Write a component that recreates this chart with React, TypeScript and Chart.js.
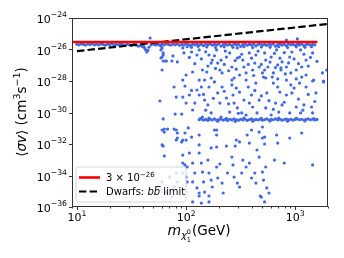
import React, { useEffect, useRef } from 'react';
import { Chart, registerables } from 'chart.js';
Chart.register(...registerables);

// Axis ranges
const X_MIN = 9;
const X_MAX = 2000;
const Y_MIN = 1e-36;
const Y_MAX = 1e-24;

// Tick labels
const xTickValues = [10, 100, 1000];
const xTickExponents = ['1', '2', '3'];
const yTickExponents = [-24, -26, -28, -30, -32, -34, -36];

// Reference lines
const relicM = [9, 1600];
const relicSV = [3e-26, 3e-26];
const dwarfM = [10, 2000];
const dwarfSV = [7.9e-27, 4.2e-25];

// Scan points as [log10(m / GeV), log10(<sigma v> / cm^3 s^-1)]
const relicBand: [number, number][] = [
  [1.00, -25.66], [1.02, -25.70], [1.04, -25.64], [1.06, -25.68], [1.08, -25.72], [1.10, -25.65], [1.12, -25.69], [1.14, -25.63],
  [1.16, -25.71], [1.18, -25.66], [1.20, -25.70], [1.22, -25.64], [1.24, -25.68], [1.26, -25.73], [1.28, -25.66], [1.30, -25.69],
  [1.32, -25.64], [1.34, -25.71], [1.36, -25.67], [1.38, -25.70], [1.40, -25.65], [1.42, -25.69], [1.44, -25.72], [1.46, -25.66],
  [1.48, -25.70], [1.50, -25.74], [1.52, -25.68], [1.54, -25.72], [1.56, -25.78], [1.58, -25.75], [1.60, -25.82], [1.61, -25.78],
  [1.62, -25.90], [1.63, -26.03], [1.64, -26.16], [1.65, -26.05], [1.66, -25.85], [1.67, -25.27], [1.68, -25.70], [1.70, -25.66],
  [1.72, -25.71], [1.74, -25.68], [1.76, -25.72], [1.77, -25.78], [1.78, -25.90], [1.79, -26.35], [1.77, -26.54], [1.78, -25.66],
  [1.80, -25.70], [1.82, -25.64], [1.84, -25.69], [1.86, -25.72], [1.88, -25.66], [1.90, -25.70], [1.92, -25.65], [1.94, -25.73],
  [1.96, -25.68], [1.98, -25.71], [2.00, -25.64], [2.02, -25.69], [2.04, -25.74], [2.06, -25.67], [2.08, -25.70], [2.10, -25.65],
  [2.12, -25.72], [2.14, -25.68], [2.16, -25.76], [2.18, -25.66], [2.20, -25.70], [2.22, -25.64], [2.24, -25.73], [2.26, -25.68],
  [2.28, -25.71], [2.30, -25.65], [2.32, -25.78], [2.34, -25.69], [2.36, -25.66], [2.38, -25.72], [2.40, -25.68], [2.42, -25.75],
  [2.44, -25.65], [2.46, -25.70], [2.48, -25.67], [2.50, -25.80], [2.52, -25.69], [2.54, -25.64], [2.56, -25.73], [2.58, -25.68],
  [2.60, -25.71], [2.62, -25.66], [2.64, -25.77], [2.66, -25.69], [2.68, -25.65], [2.70, -25.72], [2.72, -25.68], [2.74, -25.74],
  [2.76, -25.66], [2.78, -25.70], [2.80, -25.64], [2.82, -25.79], [2.84, -25.69], [2.86, -25.66], [2.88, -25.72], [2.90, -25.68],
  [2.92, -25.75], [2.94, -25.65], [2.96, -25.70], [2.98, -25.67], [3.00, -25.73], [3.02, -25.68], [3.04, -25.71], [3.06, -25.65],
  [3.08, -25.76], [3.10, -25.69], [3.12, -25.66], [3.14, -25.72], [3.16, -25.68], [3.18, -25.70],
  [2.01, -25.82], [2.05, -25.86], [2.11, -25.80], [2.19, -25.84], [2.27, -25.88], [2.35, -25.83], [2.43, -25.86], [2.53, -25.82],
  [2.61, -25.88], [2.69, -25.84], [2.77, -25.86], [2.85, -25.82], [2.93, -25.87], [3.01, -25.83], [3.09, -25.86], [3.15, -25.82],
  [2.45, -25.58], [2.87, -25.56], [3.03, -25.57],
];

const lowBand: [number, number][] = [
  [2.12, -30.46], [2.14, -30.42], [2.16, -30.48], [2.18, -30.44], [2.20, -30.50], [2.22, -30.43], [2.24, -30.47], [2.26, -30.41],
  [2.28, -30.49], [2.30, -30.45], [2.32, -30.42], [2.34, -30.48], [2.36, -30.44], [2.38, -30.51], [2.40, -30.43], [2.42, -30.47],
  [2.44, -30.40], [2.46, -30.46], [2.48, -30.49], [2.50, -30.43], [2.52, -30.47], [2.54, -30.42], [2.56, -30.50], [2.58, -30.45],
  [2.60, -30.41], [2.62, -30.48], [2.64, -30.44], [2.66, -30.47], [2.68, -30.42], [2.70, -30.49], [2.72, -30.45], [2.74, -30.41],
  [2.76, -30.48], [2.78, -30.44], [2.80, -30.46], [2.82, -30.40], [2.84, -30.47], [2.86, -30.43], [2.88, -30.49], [2.90, -30.45],
  [2.92, -30.42], [2.94, -30.47], [2.96, -30.43], [2.98, -30.48], [3.00, -30.44], [3.02, -30.41], [3.04, -30.46], [3.06, -30.43],
  [3.08, -30.48], [3.10, -30.44], [3.12, -30.41], [3.14, -30.46], [3.16, -30.43], [3.18, -30.47], [3.20, -30.44],
  [2.13, -30.38], [2.21, -30.36], [2.29, -30.55], [2.37, -30.37], [2.45, -30.56], [2.53, -30.36], [2.61, -30.55], [2.69, -30.37],
  [2.77, -30.54], [2.85, -30.36], [2.93, -30.55], [3.01, -30.37], [3.09, -30.54], [3.17, -30.38],
];

const upperCloud: [number, number][] = [
  [1.77, -26.03], [1.79, -26.22], [1.78, -26.48], [1.79, -26.73], [1.81, -26.73], [1.78, -27.30], [1.88, -26.41], [1.92, -26.79],
  [1.98, -26.22], [1.97, -25.90], [2.05, -26.16], [2.06, -27.43], [2.12, -26.03], [2.15, -27.30], [2.17, -27.94], [2.21, -26.35],
  [2.23, -26.86], [2.24, -26.67], [2.28, -26.03], [2.29, -26.86], [2.31, -27.30], [2.32, -26.67], [2.33, -27.49], [2.37, -26.48],
  [2.40, -26.22], [2.42, -27.11], [2.44, -27.81], [2.47, -25.90], [2.49, -26.48], [2.52, -26.67], [2.53, -27.11], [2.55, -27.49],
  [2.58, -26.22], [2.61, -27.30], [2.63, -26.86], [2.64, -26.35], [2.67, -27.11], [2.70, -27.49], [2.72, -26.22], [2.73, -26.67],
  [2.75, -27.11], [2.78, -26.48], [2.80, -27.49], [2.83, -26.03], [2.84, -26.98], [2.87, -27.30], [2.88, -26.79], [2.92, -27.11],
  [2.95, -26.48], [2.96, -27.49], [2.97, -26.16], [3.01, -27.30], [3.05, -26.03], [3.06, -27.11], [3.10, -26.67], [3.16, -26.22],
  [3.25, -27.49], [3.29, -27.30], [3.26, -28.00], [3.16, -28.00], [2.92, -25.40], [3.02, -25.33],
  [2.00, -27.62], [2.12, -27.94], [2.19, -27.43], [2.23, -27.81], [2.42, -27.94], [2.47, -26.54], [2.49, -27.62], [2.55, -27.94],
  [2.72, -27.30], [2.79, -27.75], [2.87, -27.17], [2.92, -27.94], [3.06, -27.75], [3.17, -27.94], [1.87, -26.73], [1.82, -26.73],
  [2.03, -26.50], [2.08, -26.90], [2.10, -26.35], [2.14, -26.60], [2.18, -26.15], [2.20, -27.05], [2.26, -26.40], [2.27, -27.20],
  [2.35, -26.95], [2.36, -26.10], [2.39, -27.35], [2.45, -26.70], [2.46, -27.25], [2.51, -26.30], [2.57, -26.95], [2.60, -26.55],
  [2.62, -27.65], [2.66, -26.10], [2.69, -26.95], [2.71, -27.75], [2.77, -26.80], [2.81, -26.25], [2.82, -27.15], [2.86, -26.55],
  [2.90, -26.20], [2.91, -27.55], [2.94, -26.85], [2.99, -26.60], [3.03, -26.90], [3.08, -26.30], [3.12, -27.05], [3.14, -26.50],
  [3.20, -26.75], [1.97, -27.94], [2.73, -27.81], [2.84, -27.87], [3.01, -27.87], [3.10, -27.62], [2.26, -28.06],
];

const middleCloud: [number, number][] = [
  [1.76, -29.27], [1.79, -30.41], [1.78, -31.11], [1.80, -31.24], [1.83, -31.05], [1.89, -31.05], [1.91, -31.75], [1.92, -31.30],
  [1.89, -28.38], [1.91, -29.02], [1.90, -30.10], [1.96, -30.10], [1.97, -29.02], [1.99, -28.32], [2.00, -29.40], [2.03, -28.89],
  [2.02, -30.98], [2.05, -31.56], [2.06, -29.84], [2.08, -29.40], [2.10, -28.57], [2.12, -28.89], [2.14, -28.38], [2.15, -30.29],
  [2.17, -29.21], [2.20, -29.52], [2.21, -28.38], [2.23, -30.03], [2.26, -31.11], [2.28, -31.43], [2.29, -28.76], [2.31, -29.40],
  [2.32, -30.29], [2.33, -28.38], [2.37, -29.08], [2.40, -29.97], [2.42, -28.25], [2.43, -28.89], [2.44, -29.40], [2.47, -29.71],
  [2.49, -28.70], [2.51, -30.03], [2.53, -29.21], [2.55, -30.16], [2.57, -28.38], [2.60, -28.89], [2.61, -29.65], [2.64, -28.13],
  [2.65, -30.03], [2.67, -29.21], [2.70, -30.92], [2.72, -31.56], [2.73, -29.71], [2.74, -28.76], [2.78, -30.16], [2.80, -28.13],
  [2.82, -29.40], [2.84, -28.38], [2.85, -29.97], [2.88, -29.52], [2.92, -28.89], [2.95, -30.03], [2.96, -28.25], [2.97, -28.76],
  [3.01, -29.65], [3.04, -28.13], [3.05, -30.03], [3.08, -29.52], [3.10, -28.38], [3.15, -29.65], [3.16, -30.03], [3.19, -28.76],
  [3.26, -28.06], [1.97, -31.75], [2.12, -31.43], [2.28, -31.11], [2.46, -31.75], [2.56, -31.43], [2.60, -31.11], [2.67, -31.24],
  [2.70, -31.62], [2.83, -31.43], [2.95, -31.62], [3.06, -31.30],
  [2.05, -28.60], [2.16, -28.85], [2.25, -29.10], [2.35, -28.65], [2.39, -29.45], [2.46, -28.45], [2.58, -29.40], [2.63, -28.60],
  [2.69, -28.95], [2.76, -29.25], [2.86, -28.70], [2.90, -29.35], [2.99, -28.45], [3.03, -29.15], [3.12, -28.85], [3.18, -29.30],
  [2.18, -29.85], [2.48, -30.05], [2.80, -29.80], [3.07, -29.85],
];

const lowerCloud: [number, number][] = [
  [1.79, -32.13], [1.80, -32.76], [1.96, -31.87], [2.00, -31.75], [2.12, -32.06], [2.23, -32.25], [2.28, -32.19], [2.37, -32.13],
  [2.45, -32.13], [2.49, -31.87], [2.58, -31.94], [2.65, -32.38], [2.72, -32.00], [2.84, -31.94], [1.97, -32.70], [1.99, -33.33],
  [1.97, -33.84], [2.00, -34.10], [2.03, -32.57], [2.06, -33.21], [2.08, -33.84], [2.06, -34.41], [2.10, -34.79], [2.12, -32.57],
  [2.14, -33.21], [2.15, -33.78], [2.16, -34.41], [2.17, -35.05], [2.12, -35.11], [2.06, -35.68], [2.14, -35.75], [2.21, -35.68],
  [2.20, -33.02], [2.21, -33.84], [2.23, -34.29], [2.24, -34.73], [2.28, -33.46], [2.31, -33.27], [2.29, -34.16], [2.33, -34.48],
  [2.34, -35.11], [2.38, -33.84], [2.42, -32.83], [2.43, -33.33], [2.44, -34.10], [2.47, -34.48], [2.49, -34.73], [2.51, -33.84],
  [2.52, -33.02], [2.55, -33.46], [2.58, -33.21], [2.60, -34.16], [2.63, -33.84], [2.64, -34.48], [2.67, -32.83], [2.70, -33.78],
  [2.71, -34.29], [2.73, -33.46], [2.74, -34.79], [2.69, -35.37], [2.72, -35.68], [2.76, -35.11], [2.81, -33.02], [2.90, -33.21],
  [3.16, -33.33], [2.12, -35.30], [2.21, -35.30], [2.68, -35.30], [1.78, -32.06], [1.80, -31.05], [1.91, -31.11], [1.92, -31.62],
  [1.99, -31.30], [1.97, -33.21], [2.01, -33.46], [2.01, -34.41], [1.85, -34.10], [1.91, -33.84], [1.92, -34.41], [1.89, -34.73],
  [1.78, -34.41], [1.82, -35.05], [1.87, -35.37],
];

const FONT = "'DejaVu Sans', 'Liberation Sans', sans-serif";

type Run = { t: string; size: number; dy?: number; italic?: boolean; dx?: number; noAdvance?: boolean };

function runFont(r: Run) {
  return `${r.italic ? 'italic ' : ''}${r.size}px ${FONT}`;
}
function measureRuns(ctx: CanvasRenderingContext2D, runs: Run[]) {
  let w = 0;
  for (const r of runs) {
    ctx.font = runFont(r);
    if (!r.noAdvance) w += ctx.measureText(r.t).width + (r.dx || 0);
  }
  return w;
}
function drawRuns(ctx: CanvasRenderingContext2D, x: number, y: number, runs: Run[]) {
  let cx = x;
  for (const r of runs) {
    ctx.font = runFont(r);
    ctx.fillText(r.t, cx + (r.dx || 0), y + (r.dy || 0));
    if (!r.noAdvance) cx += ctx.measureText(r.t).width + (r.dx || 0);
  }
  return cx - x;
}

const toPoints = (arr: [number, number][]) => arr.map(([lm, ls]) => ({ x: Math.pow(10, lm), y: Math.pow(10, ls) }));

const decorPlugin = {
  id: 'decor',
  afterDraw(chart: any) {
    const ctx: CanvasRenderingContext2D = chart.ctx;
    const { left, right, top, bottom } = chart.chartArea;
    const xs = chart.scales.x;
    const ys = chart.scales.y;
    ctx.save();
    ctx.fillStyle = '#000';
    ctx.strokeStyle = '#333';
    ctx.lineWidth = 1;
    const L = Math.round(left) + 0.5, R = Math.round(right) - 0.5, T = Math.round(top) + 0.5, B = Math.round(bottom) - 0.5;
    ctx.strokeRect(L, T, R - L, B - T);
    ctx.beginPath();
    for (let k = 0; k < 4; k++) {
      for (let d = 1; d <= 9; d++) {
        const v = d * Math.pow(10, k);
        if (v < X_MIN || v > X_MAX) continue;
        const px = Math.round(xs.getPixelForValue(v)) + 0.5;
        const len = d === 1 ? 3.5 : 2;
        ctx.moveTo(px, B);
        ctx.lineTo(px, B + len);
      }
    }
    for (const e of yTickExponents) {
      const py = Math.round(ys.getPixelForValue(Math.pow(10, e))) + 0.5;
      ctx.moveTo(L, py);
      ctx.lineTo(L - 3.5, py);
    }
    ctx.stroke();
    ctx.textBaseline = 'alphabetic';
    ctx.textAlign = 'left';
    xTickValues.forEach((v, i) => {
      const px = xs.getPixelForValue(v);
      const runs: Run[] = [{ t: '10', size: 11 }, { t: xTickExponents[i], size: 7.7, dy: -5 }];
      const w = measureRuns(ctx, runs);
      drawRuns(ctx, px - w / 2, 221, runs);
    });
    for (const e of yTickExponents) {
      const py = ys.getPixelForValue(Math.pow(10, e));
      const runs: Run[] = [{ t: '10', size: 11 }, { t: '\u2212' + String(-e), size: 7.7, dy: -6 }];
      const w = measureRuns(ctx, runs);
      drawRuns(ctx, left - 5 - w, py + 5, runs);
    }
    {
      const runs: Run[] = [
        { t: 'm', size: 14, italic: true },
        { t: '\u03c7', size: 9.5, italic: true, dy: 3 },
        { t: '0', size: 6.5, dy: -1, noAdvance: true },
        { t: '1', size: 6.5, dy: 7 },
        { t: '(GeV)', size: 13.5, dx: 1 },
      ];
      const w = measureRuns(ctx, runs);
      drawRuns(ctx, 199 - w / 2, 235, runs);
    }
    {
      ctx.save();
      ctx.translate(26, 112);
      ctx.rotate(-Math.PI / 2);
      const runs: Run[] = [
        { t: '\u27e8', size: 13.5 },
        { t: '\u03c3v', size: 13.5, italic: true },
        { t: '\u27e9 (cm', size: 13.5 },
        { t: '3', size: 9.5, dy: -6 },
        { t: 's', size: 13.5 },
        { t: '\u22121', size: 9.5, dy: -6 },
        { t: ')', size: 13.5 },
      ];
      const w = measureRuns(ctx, runs);
      drawRuns(ctx, -w / 2, 0, runs);
      ctx.restore();
    }
    {
      const bx = 76, by = 167, bw = 110, bh = 35, r = 2.5;
      ctx.beginPath();
      ctx.moveTo(bx + r, by);
      ctx.lineTo(bx + bw - r, by);
      ctx.quadraticCurveTo(bx + bw, by, bx + bw, by + r);
      ctx.lineTo(bx + bw, by + bh - r);
      ctx.quadraticCurveTo(bx + bw, by + bh, bx + bw - r, by + bh);
      ctx.lineTo(bx + r, by + bh);
      ctx.quadraticCurveTo(bx, by + bh, bx, by + bh - r);
      ctx.lineTo(bx, by + r);
      ctx.quadraticCurveTo(bx, by, bx + r, by);
      ctx.closePath();
      ctx.fillStyle = 'rgba(255,255,255,0.8)';
      ctx.fill();
      ctx.strokeStyle = '#d6d6d6';
      ctx.lineWidth = 1;
      ctx.stroke();
      ctx.strokeStyle = '#ff0000';
      ctx.lineWidth = 2.6;
      ctx.beginPath();
      ctx.moveTo(79, 177.5);
      ctx.lineTo(100, 177.5);
      ctx.stroke();
      ctx.strokeStyle = '#000';
      ctx.lineWidth = 2.2;
      ctx.setLineDash([7.4, 3.2]);
      ctx.beginPath();
      ctx.moveTo(79, 191.5);
      ctx.lineTo(100, 191.5);
      ctx.stroke();
      ctx.setLineDash([]);
      ctx.fillStyle = '#000';
      drawRuns(ctx, 106, 181, [
        { t: '3 \u00d7 10', size: 10 },
        { t: '\u221226', size: 7, dy: -4.5 },
      ]);
      ctx.font = `10px ${FONT}`;
      const w1 = ctx.measureText('Dwarfs: ').width;
      ctx.fillText('Dwarfs: ', 106, 195);
      ctx.font = `italic 10px ${FONT}`;
      const wb = ctx.measureText('b').width;
      ctx.fillText('b', 106 + w1, 195);
      ctx.fillText('b', 106 + w1 + wb, 195);
      ctx.fillRect(106 + w1 + wb + 1.5, 186.2, wb - 1, 0.9);
      ctx.font = `10px ${FONT}`;
      ctx.fillText(' limit', 106 + w1 + 2 * wb, 195);
    }
    ctx.restore();
  },
};

export default function App() {
  const ref = useRef<HTMLCanvasElement | null>(null);
  useEffect(() => {
    document.body.style.margin = '0';
    if (!ref.current) return;
    const blue = '#4169e1';
    const scatterStyle = {
      type: 'scatter' as const,
      pointRadius: 1.6,
      pointBorderWidth: 0,
      pointBackgroundColor: blue,
      borderColor: blue,
      showLine: false,
      order: 2,
    };
    const chart = new Chart(ref.current, {
      type: 'scatter',
      data: {
        datasets: [
          { ...scatterStyle, label: 'relic', data: toPoints(relicBand) },
          { ...scatterStyle, label: 'low', data: toPoints(lowBand) },
          { ...scatterStyle, label: 'upper', data: toPoints(upperCloud) },
          { ...scatterStyle, label: 'middle', data: toPoints(middleCloud) },
          { ...scatterStyle, label: 'lower', data: toPoints(lowerCloud) },
          {
            type: 'line' as const,
            label: '3 \u00d7 10\u207b\u00b2\u2076',
            data: relicM.map((m, i) => ({ x: m, y: relicSV[i] })),
            borderColor: '#ff0000',
            borderWidth: 2.6,
            pointRadius: 0,
            fill: false,
            order: 0,
          },
          {
            type: 'line' as const,
            label: 'Dwarfs: bb\u0304 limit',
            data: dwarfM.map((m, i) => ({ x: m, y: dwarfSV[i] })),
            borderColor: '#000000',
            borderWidth: 2.2,
            borderDash: [7.4, 3.2],
            pointRadius: 0,
            fill: false,
            order: 0,
          },
        ] as any,
      },
      options: {
        animation: false,
        responsive: false,
        devicePixelRatio: 1,
        layout: { padding: { left: 72, right: 16, top: 18, bottom: 51 } },
        plugins: { legend: { display: false }, tooltip: { enabled: false } },
        scales: {
          x: { type: 'logarithmic', min: X_MIN, max: X_MAX, display: false },
          y: { type: 'logarithmic', min: Y_MIN, max: Y_MAX, display: false },
        },
      },
      plugins: [decorPlugin],
    });
    return () => chart.destroy();
  }, []);
  return <canvas ref={ref} width={344} height={258} style={{ display: 'block' }} />;
}
